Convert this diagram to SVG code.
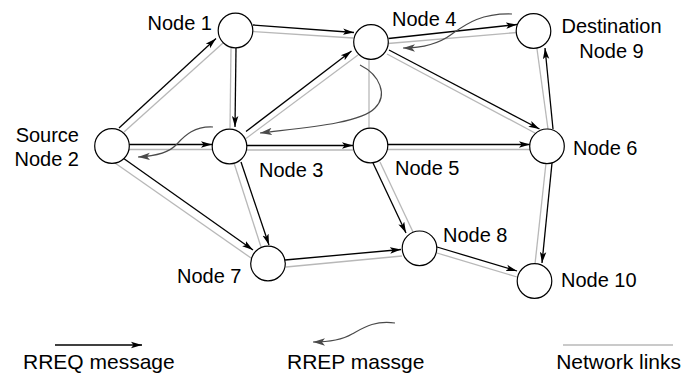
<svg xmlns="http://www.w3.org/2000/svg" width="683" height="375" viewBox="0 0 683 375">
<defs>
<style>
text{font-family:"Liberation Sans",Arial,Helvetica,sans-serif;font-size:20px;fill:#000}
.leg{font-size:21px}
.link{stroke:#b8b8b8;stroke-width:1.3;fill:none}
.req{stroke:#000;stroke-width:1.3;fill:none;marker-end:url(#ah)}
.rep{stroke:#4a4a4a;stroke-width:1.2;fill:none;marker-end:url(#ahg)}
.node circle{fill:#fff;stroke:#000;stroke-width:1.2}
</style>
<marker id="ah" markerUnits="userSpaceOnUse" markerWidth="12" markerHeight="8" refX="11" refY="4" orient="auto">
<path d="M0,0.8 L11,4 L0,7.2 L2.5,4 z" fill="#000"/>
</marker>
<marker id="ahg" markerUnits="userSpaceOnUse" markerWidth="13" markerHeight="9" refX="12" refY="4.5" orient="auto">
<path d="M0,0.8 L12,4.5 L0,8.2 L3,4.5 z" fill="#4a4a4a"/>
</marker>
</defs>
<rect width="683" height="375" fill="#fff"/>
<g id="connectors">
<g id="network-links">
<line class="link" x1="124" y1="132" x2="223" y2="43"/>
<line class="link" x1="231" y1="48" x2="230" y2="128"/>
<line class="link" x1="129" y1="149.5" x2="212" y2="149.5"/>
<line class="link" x1="115" y1="163" x2="251" y2="258"/>
<line class="link" x1="234" y1="163" x2="261" y2="247"/>
<line class="link" x1="253" y1="31.5" x2="353" y2="38"/>
<line class="link" x1="246" y1="138.5" x2="358" y2="55"/>
<line class="link" x1="247" y1="150" x2="353" y2="150"/>
<line class="link" x1="369" y1="59" x2="369" y2="128"/>
<line class="link" x1="388" y1="43.5" x2="517" y2="32.5"/>
<line class="link" x1="387" y1="54" x2="535" y2="133"/>
<line class="link" x1="388" y1="149.5" x2="530" y2="149.5"/>
<line class="link" x1="548" y1="129" x2="537" y2="49"/>
<line class="link" x1="546" y1="163" x2="535" y2="264"/>
<line class="link" x1="380" y1="162" x2="413" y2="232"/>
<line class="link" x1="286" y1="267" x2="402" y2="256"/>
<line class="link" x1="437" y1="253" x2="517" y2="277"/>
</g>
<g id="rreq">
<line class="req" x1="119" y1="128" x2="216" y2="38.5"/>
<line class="req" x1="236" y1="48" x2="235" y2="127"/>
<line class="req" x1="129" y1="144.5" x2="212" y2="144.5"/>
<line class="req" x1="123" y1="158" x2="253" y2="250"/>
<line class="req" x1="241" y1="162" x2="269" y2="245"/>
<line class="req" x1="253" y1="25" x2="354" y2="32.5"/>
<line class="req" x1="246" y1="131.5" x2="351.5" y2="51"/>
<line class="req" x1="247" y1="145.5" x2="353" y2="145.5"/>
<line class="req" x1="388.5" y1="38.5" x2="517" y2="24.5"/>
<line class="req" x1="389" y1="50" x2="539.5" y2="129"/>
<line class="req" x1="388" y1="144.5" x2="530" y2="144.5"/>
<line class="req" x1="553" y1="129" x2="545" y2="48"/>
<line class="req" x1="552" y1="163" x2="542" y2="263"/>
<line class="req" x1="373" y1="163" x2="406" y2="233"/>
<line class="req" x1="285" y1="260" x2="401" y2="249.5"/>
<line class="req" x1="437" y1="247" x2="517" y2="271"/>
</g>
</g>
<g id="node1" class="node"><circle cx="235.5" cy="30.5" r="17.3"/><text x="212" y="30" text-anchor="end">Node 1</text></g>
<g id="node2" class="node"><circle cx="112" cy="146" r="17.3"/><text x="79" y="142" text-anchor="end">Source</text><text x="79" y="166" text-anchor="end">Node 2</text></g>
<g id="node3" class="node"><circle cx="229.5" cy="146.5" r="17.3"/><text x="259" y="177">Node 3</text></g>
<g id="node4" class="node"><circle cx="371" cy="42" r="17.3"/><text x="392" y="26">Node 4</text></g>
<g id="node5" class="node"><circle cx="370.5" cy="145.5" r="17.3"/><text x="395" y="175">Node 5</text></g>
<g id="node6" class="node"><circle cx="547" cy="146.3" r="17.3"/><text x="573" y="155">Node 6</text></g>
<g id="node7" class="node"><circle cx="268" cy="263.5" r="17.3"/><text x="177" y="283">Node 7</text></g>
<g id="node8" class="node"><circle cx="419.5" cy="248.3" r="17.3"/><text x="443" y="242">Node 8</text></g>
<g id="node9" class="node"><circle cx="533.5" cy="31" r="17.3"/><text x="611.5" y="33" text-anchor="middle">Destination</text><text x="611.5" y="58" text-anchor="middle">Node 9</text></g>
<g id="node10" class="node"><circle cx="534.5" cy="281" r="17.3"/><text x="561" y="287">Node 10</text></g>
<g id="rrep">
<path class="rep" d="M512,14 C480,13 465,25 452,34 C440,43 425,48 403,48"/>
<path class="rep" d="M360,65 C380,75 388,95 375,108 C360,124 300,128 260,133"/>
<path class="rep" d="M213,127 C195,126 185,135 177,144 C170,152 158,156 138,157"/>
</g>
<g id="legend">
<line class="req" x1="55" y1="345" x2="142" y2="345"/>
<text class="leg" x="23" y="369">RREQ message</text>
<path class="rep" d="M395,323 C375,320 363,328 352,334 C342,340 330,342 313,342"/>
<text class="leg" x="287" y="369">RREP massge</text>
<line class="link" x1="563" y1="345" x2="673" y2="345"/>
<text class="leg" x="681" y="369" text-anchor="end">Network links</text>
</g>
</svg>
